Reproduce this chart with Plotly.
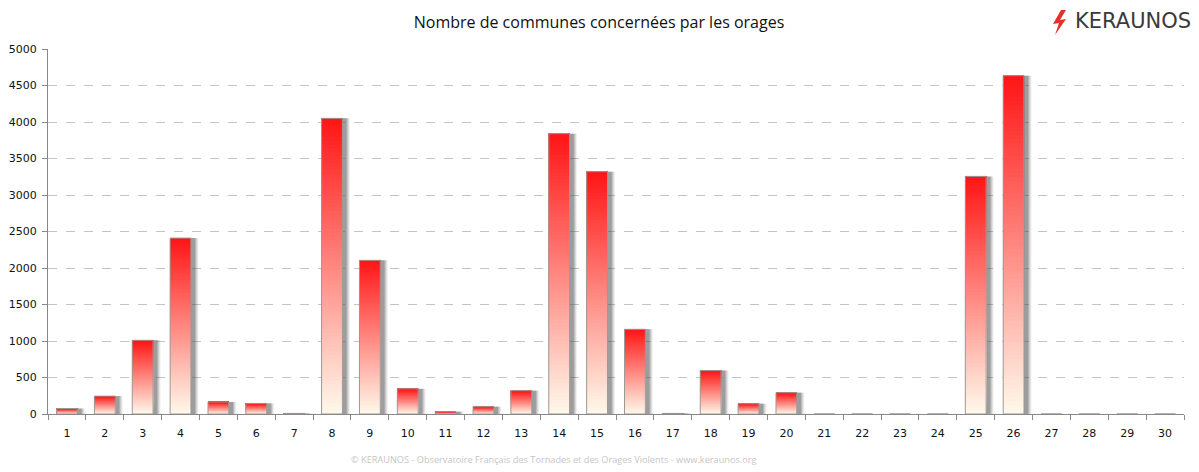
import plotly.graph_objects as go

days = [str(d) for d in range(1, 31)]
communes = [75, 245, 1010, 2410, 165, 145, 8, 4050, 2105, 345,
            32, 100, 320, 3840, 3320, 1160, 8, 595, 141, 292,
            0, 0, 0, 0, 3255, 4635, 0, 0, 0, 0]
title_text = "Nombre de communes concernées par les orages"
footer_text = "© KERAUNOS - Observatoire Français des Tornades et des Orages Violents - www.keraunos.org"
logo_text = "KERAUNOS"
y_ticks = list(range(0, 5001, 500))

# The page body has an 8px margin: the figure sits at (8, 8) in the window.
W, H = 1191, 464
PL, PR, PT, PB = 48, 1184, 49, 414  # plot area in window pixels


def px(x):
    return (x - PL) / (PR - PL)


def py(y):
    return (PB - y) / (PB - PT)


BW = 0.55
OFF = -BW / 2
N = 80
top_rgb = (255, 22, 22)
bot_rgb = (255, 248, 234)

fig = go.Figure()

# soft shadow layers
for dx, alpha in [(0.20, 0.08), (0.17, 0.15), (0.14, 0.22), (0.11, 0.28)]:
    fig.add_trace(go.Bar(x=days, y=communes, width=BW, offset=OFF + dx,
                         marker=dict(color=f"rgba(80,80,80,{alpha})", line=dict(width=0)),
                         hoverinfo="skip", showlegend=False))

# vertical gradient, relative to each bar's own height
for k in range(N):
    t = k / (N - 1)  # 0 bottom -> 1 top
    r = round(bot_rgb[0] + (top_rgb[0] - bot_rgb[0]) * t)
    g = round(bot_rgb[1] + (top_rgb[1] - bot_rgb[1]) * t)
    b = round(bot_rgb[2] + (top_rgb[2] - bot_rgb[2]) * t)
    fig.add_trace(go.Bar(x=days, y=[v * (N - k) / N for v in communes],
                         base=[v * k / N for v in communes],
                         width=BW, offset=OFF,
                         marker=dict(color=f"rgb({r},{g},{b})", line=dict(width=0)),
                         hoverinfo="skip", showlegend=False))

# outline
fig.add_trace(go.Bar(x=days, y=communes, width=BW, offset=OFF,
                     marker=dict(color="rgba(0,0,0,0)", line=dict(color="#9a9a9a", width=1)),
                     hovertemplate="%{x}: %{y}<extra></extra>", showlegend=False))

bolt = [(1061, 10), (1053, 24), (1059, 23), (1055, 35), (1066, 19), (1060, 20), (1066, 10)]
bolt_path = "M " + " L ".join(f"{px(a):.5f},{py(b):.5f}" for a, b in bolt) + " Z"

fig.update_layout(
    width=W, height=H,
    barmode="overlay",
    paper_bgcolor="white", plot_bgcolor="white",
    margin=dict(l=PL - 8, r=1199 - PR, t=PT - 8, b=472 - PB),
    font=dict(family="DejaVu Sans", size=11, color="#111"),
    title=dict(text=title_text, xref="container", x=(599 - 8) / W, xanchor="center",
               yref="container", y=1 - (22 - 8) / H, yanchor="middle",
               font=dict(family="Open Sans", size=16, color="#111")),
    xaxis=dict(type="category", tickson="boundaries", ticks="outside", ticklen=5,
               tickcolor="#888", showline=True, linecolor="#888", linewidth=1,
               showgrid=False, tickfont=dict(size=11), ticklabelstandoff=9,
               automargin=False),
    yaxis=dict(range=[0, 5000], tickvals=y_ticks, ticks="outside", ticklen=5,
               tickcolor="#888", showline=True, linecolor="#888", linewidth=1,
               showgrid=True, gridcolor="#c4c4c4", griddash="dash", gridwidth=1,
               zeroline=False, tickfont=dict(size=11), ticklabelstandoff=3,
               automargin=False),
    annotations=[
        dict(text=footer_text, xref="paper", yref="paper", x=px(554), y=py(459),
             xanchor="center", yanchor="middle", showarrow=False,
             font=dict(family="Open Sans", size=9.2, color="#c6c6c6")),
        dict(text=logo_text, xref="paper", yref="paper", x=px(1193), y=py(21),
             xanchor="right", yanchor="middle", showarrow=False,
             font=dict(family="DejaVu Sans", size=21, color="#3a3a3a")),
    ],
    shapes=[
        dict(type="path", xref="paper", yref="paper", path=bolt_path,
             fillcolor="#e8302a", line=dict(width=0)),
    ],
)

fig.write_html("out.html")
